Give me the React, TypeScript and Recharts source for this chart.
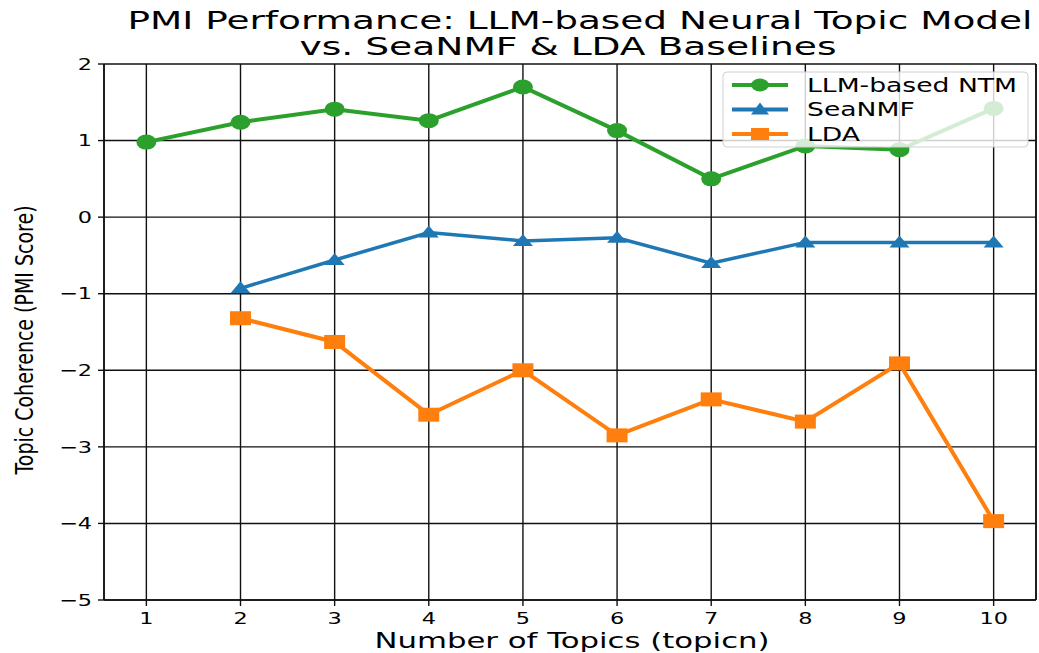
import React from 'react';
import { LineChart, Line, XAxis, YAxis, CartesianGrid, ReferenceLine } from 'recharts';

const TOPICS = [1, 2, 3, 4, 5, 6, 7, 8, 9, 10];
const LLM_NTM = [0.98, 1.24, 1.41, 1.26, 1.7, 1.13, 0.5, 0.93, 0.88, 1.42];
const SEANMF = [null, -0.93, -0.56, -0.2, -0.31, -0.27, -0.6, -0.33, -0.33, -0.33];
const LDA = [null, -1.32, -1.63, -2.58, -2.0, -2.85, -2.38, -2.67, -1.91, -3.97];
const Y_TICKS = [-5, -4, -3, -2, -1, 0, 1, 2];

const GREEN = '#2ca02c';
const BLUE = '#1f77b4';
const ORANGE = '#ff7f0e';
const FONT = '"DejaVu Sans", sans-serif';
const SX = 1.4; // the picture is stretched sideways

const data = TOPICS.map((t, i) => ({ topic: t, llm: LLM_NTM[i], seanmf: SEANMF[i], lda: LDA[i] }));

const fmt = (v: number) => String(v).replace('-', '\u2212');

const Circle = (p: any) => (p.cy == null ? null : <ellipse key={p.index} cx={p.cx} cy={p.cy} rx={10} ry={7.5} fill={GREEN} />);
const Triangle = (p: any) =>
  p.cy == null ? null : (
    <polygon key={p.index} points={`${p.cx},${p.cy - 7} ${p.cx - 10},${p.cy + 5} ${p.cx + 10},${p.cy + 5}`} fill={BLUE} />
  );
const Square = (p: any) => (p.cy == null ? null : <rect key={p.index} x={p.cx - 10.5} y={p.cy - 7} width={21} height={14} fill={ORANGE} />);

const XTick = (p: any) => (
  <text transform={`translate(${p.x},${p.y}) scale(${SX},1)`} textAnchor="middle" dy="0.71em" fontFamily={FONT} fontSize={16} fill="#000">
    {p.payload.value}
  </text>
);
const YTick = (p: any) => (
  <text transform={`translate(${p.x},${p.y}) scale(${SX},1)`} textAnchor="end" dy="0.36em" fontFamily={FONT} fontSize={16} fill="#000">
    {fmt(p.payload.value)}
  </text>
);

const LEGEND_ITEMS = [
  { label: 'LLM-based NTM', color: GREEN, shape: 'circle' },
  { label: 'SeaNMF', color: BLUE, shape: 'triangle' },
  { label: 'LDA', color: ORANGE, shape: 'square' },
];

const LegendBox = () => (
  <svg width={310} height={80} style={{ position: 'absolute', left: 721, top: 70 }}>
    <rect x={2} y={2} width={305} height={75} rx={4} fill="rgba(255,255,255,0.8)" stroke="#d0d0d0" />
    {LEGEND_ITEMS.map((it, i) => {
      const cy = 15 + i * 24.5;
      return (
        <g key={it.label}>
          <line x1={11} y1={cy} x2={67} y2={cy} stroke={it.color} strokeWidth={4} />
          {it.shape === 'circle' && <ellipse cx={39} cy={cy} rx={9} ry={6.5} fill={it.color} />}
          {it.shape === 'triangle' && <polygon points={`39,${cy - 7} 30,${cy + 5} 48,${cy + 5}`} fill={it.color} />}
          {it.shape === 'square' && <rect x={30} y={cy - 6} width={18} height={12} fill={it.color} />}
          <text transform={`translate(86,${cy}) scale(${SX},1)`} dy="0.36em" fontFamily={FONT} fontSize={19} fill="#000">
            {it.label}
          </text>
        </g>
      );
    })}
  </svg>
);

export default function App() {
  return (
    <div style={{ position: 'absolute', left: 0, top: 0, width: 1039, height: 653, background: '#fff', overflow: 'hidden' }}>
      <LineChart width={1039} height={653} data={data} margin={{ top: 64, right: 3, bottom: 0, left: 44 }}>
        <CartesianGrid stroke="#111" strokeWidth={1.4} />
        <XAxis
          dataKey="topic"
          type="number"
          domain={[0.55, 10.45]}
          ticks={TOPICS}
          height={53}
          axisLine={{ stroke: '#111', strokeWidth: 1.6 }}
          tickLine={{ stroke: '#111', strokeWidth: 1.4 }}
          tickSize={6}
          tickMargin={7}
          tick={<XTick />}
        />
        <YAxis
          domain={[-5, 2]}
          ticks={Y_TICKS}
          width={60}
          axisLine={{ stroke: '#111', strokeWidth: 1.6 }}
          tickLine={{ stroke: '#111', strokeWidth: 1.4 }}
          tickSize={6}
          tickMargin={6}
          tick={<YTick />}
        />
        <ReferenceLine x={10.45} stroke="#111" strokeWidth={1.6} />
        <Line dataKey="llm" name="LLM-based NTM" stroke={GREEN} strokeWidth={4} dot={Circle} isAnimationActive={false} />
        <Line dataKey="seanmf" name="SeaNMF" stroke={BLUE} strokeWidth={3.5} dot={Triangle} isAnimationActive={false} />
        <Line dataKey="lda" name="LDA" stroke={ORANGE} strokeWidth={4} dot={Square} isAnimationActive={false} />
      </LineChart>
      <svg width={1039} height={653} style={{ position: 'absolute', left: 0, top: 0, pointerEvents: 'none' }}>
        <text x={580} y={29} textAnchor="middle" fontFamily={FONT} fontSize={24} textLength={905} lengthAdjust="spacingAndGlyphs">
          PMI Performance: LLM-based Neural Topic Model
        </text>
        <text x={568} y={55} textAnchor="middle" fontFamily={FONT} fontSize={24} textLength={537} lengthAdjust="spacingAndGlyphs">
          vs. SeaNMF &amp; LDA Baselines
        </text>
        <text x={572} y={648} textAnchor="middle" fontFamily={FONT} fontSize={21} textLength={395} lengthAdjust="spacingAndGlyphs">
          Number of Topics (topicn)
        </text>
        <text
          transform={`translate(33,340) scale(1.35,1) rotate(-90)`}
          textAnchor="middle"
          fontFamily={FONT}
          fontSize={19}
        >
          Topic Coherence (PMI Score)
        </text>
      </svg>
      <LegendBox />
    </div>
  );
}
